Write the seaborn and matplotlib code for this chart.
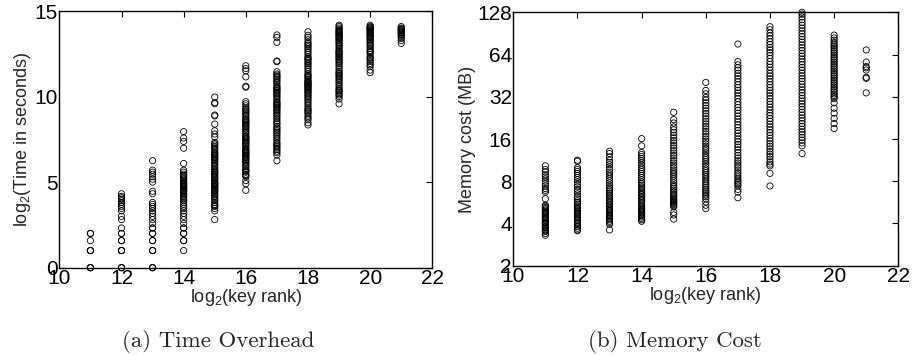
import pandas as pd
import seaborn as sns
import matplotlib.pyplot as plt
from matplotlib.ticker import FixedLocator, FixedFormatter, NullLocator

sns.set_theme(style="white")
plt.rcParams['font.family'] = ['Liberation Sans', 'DejaVu Sans']
plt.rcParams['mathtext.fontset'] = 'custom'
plt.rcParams['mathtext.rm'] = 'Liberation Sans'
plt.rcParams['mathtext.it'] = 'Liberation Sans:italic'

ranks = [11, 12, 13, 14, 15, 16, 17, 18, 19, 20, 21]

# log2(time in seconds), one list per log2(key rank)
t11 = [0, 0, 0, 0, 1, 1, 1, 1.58, 2, 2]
t12 = [0, 0, 0, 1, 1, 1, 1.58, 1.58, 2, 2, 2.32, 2.81, 3.0, 3.32, 3.46, 3.58, 3.7, 3.81,
       3.91, 4.0, 4.09, 4.17, 4.32]
t13 = [0, 0, 0, 1, 1, 1, 1.58, 1.58, 2, 2, 2.32, 2.32, 2.58, 2.81, 3.0, 3.17, 3.32, 3.46,
       3.58, 3.7, 3.81, 4.32, 4.46, 5.0, 5.17, 5.32, 5.46, 5.58, 5.7, 6.25]
t14 = [1.0, 1.58, 1.58, 2.0, 2.0, 2.32, 2.32, 2.58, 2.81, 3.0, 3.17, 3.32, 3.46, 3.58, 3.7,
       3.81, 3.91, 4.0, 4.09, 4.17, 4.25, 4.32, 4.39, 4.46, 4.52, 4.58, 4.64, 4.7, 4.75, 4.81,
       4.86, 4.91, 4.95, 5.0, 5.09, 5.17, 5.25, 5.32, 5.39, 5.46, 5.58, 5.7, 6.09, 6.98, 7.38,
       7.58, 7.95]
t15 = [2.81, 3.32, 3.46, 3.58, 3.64, 3.7, 3.81, 3.91, 4.0, 4.09, 4.17, 4.25, 4.32, 4.39,
       4.46, 4.52, 4.58, 4.64, 4.7, 4.75, 4.81, 4.86, 4.91, 4.95, 5.0, 5.09, 5.17, 5.25, 5.32,
       5.39, 5.46, 5.52, 5.58, 5.64, 5.7, 5.81, 5.91, 6.0, 6.09, 6.17, 6.25, 6.32, 6.39, 6.46,
       6.52, 6.58, 6.64, 6.7, 6.81, 6.91, 7.0, 7.09, 7.17, 7.25, 7.32, 7.64, 7.81, 8.0, 8.39,
       8.87, 8.92, 9.58, 9.64, 9.97]
t16 = [4.52, 4.91, 5.09, 5.32, 5.39, 5.46, 5.58, 5.64, 5.7, 5.81, 5.91, 6.0, 6.09, 6.17,
       6.25, 6.32, 6.39, 6.46, 6.52, 6.58, 6.64, 6.7, 6.75, 6.81, 6.86, 6.91, 7.0, 7.09, 7.17,
       7.25, 7.32, 7.39, 7.46, 7.52, 7.58, 7.64, 7.7, 7.81, 7.91, 8.0, 8.09, 8.17, 8.25, 8.32,
       8.39, 8.46, 8.52, 8.58, 8.64, 8.7, 8.81, 8.91, 9.0, 9.09, 9.17, 9.25, 9.32, 9.46, 9.58,
       9.7, 10.55, 10.6, 11.15, 11.51, 11.64, 11.8]
t17 = [6.25, 6.58, 6.72, 6.81, 6.91, 7.0, 7.09, 7.17, 7.25, 7.32, 7.46, 7.58, 7.7, 7.81,
       7.91, 8.0, 8.09, 8.17, 8.25, 8.39, 8.46, 8.58, 8.7, 8.81, 8.91, 9.0, 9.09, 9.17, 9.25,
       9.32, 9.39, 9.46, 9.52, 9.58, 9.64, 9.7, 9.81, 9.91, 10.0, 10.09, 10.17, 10.25, 10.32,
       10.39, 10.46, 10.52, 10.58, 10.7, 10.81, 10.91, 11.0, 11.09, 11.17, 11.25, 11.32, 11.45,
       12.04, 12.08, 13.17, 13.46, 13.6]
t18 = [8.34, 8.47, 8.64, 8.75, 8.86, 9.0, 9.09, 9.17, 9.25, 9.32, 9.46, 9.58, 9.7, 9.81,
       9.91, 10.0, 10.09, 10.17, 10.25, 10.32, 10.39, 10.46, 10.52, 10.58, 10.64, 10.7, 10.75,
       10.81, 10.86, 10.91, 11.0, 11.09, 11.17, 11.25, 11.32, 11.46, 11.58, 11.7, 11.81, 11.91,
       12.0, 12.09, 12.17, 12.25, 12.32, 12.46, 12.58, 12.7, 12.81, 12.91, 13.0, 13.09, 13.17,
       13.32, 13.46, 13.58, 13.79]
t19 = [9.57, 9.86, 10.0, 10.09, 10.17, 10.25, 10.32, 10.39, 10.46, 10.58, 10.7, 10.81,
       10.91, 11.0, 11.09, 11.17, 11.25, 11.32, 11.39, 11.46, 11.58, 11.7, 11.81, 11.91, 12.0,
       12.09, 12.17, 12.25, 12.32, 12.39, 12.46, 12.52, 12.58, 12.64, 12.7, 12.81, 12.91, 13.0,
       13.09, 13.17, 13.25, 13.32, 13.39, 13.46, 13.52, 13.58, 13.64, 13.7, 13.75, 13.81,
       13.86, 13.91, 14.0, 14.09, 14.17]
t20 = [11.4, 11.55, 11.75, 11.84, 11.94, 12.05, 12.17, 12.25, 12.32, 12.46, 12.58, 12.64,
       12.7, 12.81, 12.91, 13.0, 13.09, 13.17, 13.25, 13.32, 13.39, 13.46, 13.52, 13.58, 13.64,
       13.7, 13.75, 13.81, 13.86, 13.91, 13.96, 14.0, 14.05, 14.09, 14.17]
t21 = [13.11, 13.27, 13.4, 13.5, 13.58, 13.64, 13.7, 13.75, 13.81, 13.86, 13.91, 13.96,
       14.0, 14.09]

# memory cost in MB, one list per log2(key rank)
m11 = [3.3, 3.4, 3.5, 3.55, 3.6, 3.7, 3.75, 3.8, 3.9, 4.0, 4.05, 4.1, 4.2, 4.3, 4.35, 4.4,
       4.5, 4.6, 4.7, 4.8, 4.9, 5.0, 5.1, 5.2, 5.3, 5.4, 6.0, 6.7, 6.9, 7.1, 7.4, 7.7, 8.0,
       8.3, 8.6, 8.9, 9.3, 9.7, 10.3]
m12 = [3.55, 3.6, 3.7, 3.8, 3.9, 4.0, 4.1, 4.2, 4.3, 4.4, 4.5, 4.6, 4.7, 4.8, 4.9, 5.0,
       5.1, 5.2, 5.35, 5.5, 5.65, 5.8, 6.0, 6.2, 6.5, 6.8, 7.0, 7.3, 7.6, 7.9, 8.2, 8.5, 8.8,
       9.1, 9.4, 9.7, 10.0, 11.1, 11.3]
m13 = [3.6, 3.95, 4.05, 4.15, 4.25, 4.35, 4.45, 4.55, 4.65, 4.75, 4.85, 4.95, 5.05, 5.15,
       5.3, 5.45, 5.6, 5.75, 5.9, 6.05, 6.2, 6.4, 6.6, 6.8, 7.0, 7.2, 7.5, 7.8, 8.1, 8.4, 8.7,
       9.0, 9.3, 9.7, 10.1, 10.5, 10.9, 11.3, 11.9, 12.6, 13.1]
m14 = [4.15, 4.25, 4.35, 4.45, 4.55, 4.65, 4.75, 4.85, 4.95, 5.05, 5.15, 5.25, 5.35, 5.5,
       5.65, 5.8, 5.95, 6.1, 6.25, 6.4, 6.55, 6.7, 6.9, 7.1, 7.3, 7.5, 7.7, 7.9, 8.2, 8.5,
       8.8, 9.1, 9.4, 9.7, 10.0, 10.4, 10.8, 11.2, 11.6, 12.0, 12.4, 12.8, 14.3, 16.1]
m15 = [4.3, 4.6, 4.8, 5.25, 5.35, 5.45, 5.55, 5.65, 5.75, 5.85, 5.95, 6.05, 6.2, 6.35, 6.5,
       6.7, 6.9, 7.1, 7.3, 7.5, 7.8, 8.1, 8.4, 8.7, 9.0, 9.3, 9.6, 10.0, 10.4, 10.8, 11.2,
       11.7, 12.2, 12.7, 13.2, 13.8, 14.4, 15.0, 15.6, 16.3, 17.0, 17.8, 18.6, 19.5, 20.8,
       22.0, 24.8]
m16 = [5.1, 5.4, 5.7, 6.0, 6.2, 6.4, 6.6, 6.8, 7.0, 7.25, 7.5, 7.75, 8.0, 8.3, 8.6, 8.9,
       9.2, 9.5, 9.8, 10.2, 10.6, 11.0, 11.4, 11.8, 12.2, 12.7, 13.2, 13.7, 14.2, 14.8, 15.4,
       16.0, 16.7, 17.4, 18.1, 18.9, 19.7, 20.5, 21.4, 22.3, 23.3, 24.3, 25.4, 26.5, 27.7,
       29.0, 30.3, 31.6, 33.6, 35.5, 40.5]
m17 = [6.1, 6.7, 7.0, 7.4, 7.6, 7.8, 8.0, 8.3, 8.6, 8.9, 9.2, 9.6, 10.0, 10.4, 10.8, 11.2,
       11.7, 12.2, 12.8, 13.4, 14.0, 14.6, 15.3, 16.0, 16.8, 17.6, 18.4, 19.3, 20.2, 21.2,
       22.2, 23.3, 24.4, 25.6, 26.8, 28.1, 29.5, 31.0, 32.5, 34.0, 35.6, 37.3, 39.0, 41.0,
       43.0, 45.0, 47.0, 49.5, 51.5, 54.0, 57.0, 76.0]
m18 = [7.4, 9.1, 10.3, 10.6, 11.0, 11.5, 12.0, 12.5, 13.0, 13.6, 14.2, 14.8, 15.5, 16.2,
       17.0, 17.8, 18.6, 19.5, 20.4, 21.4, 22.4, 23.5, 24.6, 25.8, 27.0, 28.3, 29.6, 31.0,
       32.5, 34.0, 35.6, 37.3, 39.0, 41.0, 43.0, 45.0, 47.0, 49.5, 52.0, 54.5, 57.0, 60.0,
       63.0, 66.0, 69.0, 72.0, 75.5, 79.0, 83.0, 87.0, 91.0, 96.0, 101.0]
m19 = [12.6, 14.3, 15.0, 15.7, 16.4, 17.2, 18.0, 18.8, 19.7, 20.6, 21.6, 22.6, 23.7, 24.8,
       26.0, 27.2, 28.5, 29.8, 31.2, 32.7, 34.2, 35.8, 37.5, 39.3, 41.2, 43.1, 45.1, 47.2,
       49.5, 51.8, 54.2, 56.8, 59.5, 62.3, 65.2, 68.3, 71.5, 74.9, 78.4, 82.1, 86.0, 90.0,
       94.3, 98.7, 103.4, 108.3, 113.4, 118.7, 124.3, 128.0]
m20 = [19.0, 20.6, 22.4, 24.5, 26.5, 29.0, 31.0, 31.8, 32.6, 33.5, 34.5, 35.5, 36.5, 37.6,
       38.7, 39.8, 41.0, 42.2, 43.5, 44.8, 46.1, 47.5, 48.9, 50.3, 51.8, 53.3, 54.9, 56.5,
       58.2, 59.9, 61.7, 63.5, 65.4, 67.3, 69.3, 71.4, 73.5, 75.7, 78.0, 81.0, 84.0, 88.0]
m21 = [34.1, 43.3, 44.0, 49.6, 51.4, 52.5, 56.5, 69.0]

time_cols = [t11, t12, t13, t14, t15, t16, t17, t18, t19, t20, t21]
mem_cols = [m11, m12, m13, m14, m15, m16, m17, m18, m19, m20, m21]

dfTime = pd.DataFrame([(r, v) for r, col in zip(ranks, time_cols) for v in col],
                      columns=["rank", "value"])
dfMem = pd.DataFrame([(r, v) for r, col in zip(ranks, mem_cols) for v in col],
                     columns=["rank", "value"])

tick_size = 15
label_size = 13

fig = plt.figure(figsize=(9.13, 3.55), dpi=100)
ax1 = fig.add_axes([0.0650, 0.246, 0.4085, 0.723])
ax2 = fig.add_axes([0.5622, 0.2515, 0.4217, 0.7139])

for ax, df in [(ax1, dfTime), (ax2, dfMem)]:
    sns.scatterplot(ax=ax, data=df, x="rank", y="value", marker="o", s=20, legend=False)
    pts = ax.collections[0]
    pts.set_facecolor("none")
    pts.set_edgecolor("black")
    pts.set_linewidth(0.6)
    pts.set_clip_on(False)

    ax.set_xlim(10, 22)
    ax.set_xticks([10, 12, 14, 16, 18, 20, 22])
    ax.set_xlabel("log$_2$(key rank)", fontsize=label_size, labelpad=-1)
    ax.tick_params(direction="in", top=True, right=True, length=4, width=0.8,
                   labelsize=tick_size, pad=1, colors="black")
    for sp in ax.spines.values():
        sp.set_color("black")
        sp.set_linewidth(1.0)

ax1.set_ylim(0, 15)
ax1.set_yticks([0, 5, 10, 15])
ax1.set_ylabel("log$_2$(Time in seconds)", fontsize=label_size, labelpad=1)

ax2.set_yscale("log", base=2)
ax2.set_ylim(2, 128)
yt = [2, 4, 8, 16, 32, 64, 128]
ax2.yaxis.set_major_locator(FixedLocator(yt))
ax2.yaxis.set_major_formatter(FixedFormatter([str(v) for v in yt]))
ax2.yaxis.set_minor_locator(NullLocator())
ax2.set_ylabel("Memory cost (MB)", fontsize=label_size, labelpad=1)

fig.text(0.239, 0.022, "(a) Time Overhead", family="cmr10", fontsize=16.5, ha="center")
fig.text(0.739, 0.022, "(b) Memory Cost", family="cmr10", fontsize=16.5, ha="center")

plt.savefig("out.png", dpi=100)
